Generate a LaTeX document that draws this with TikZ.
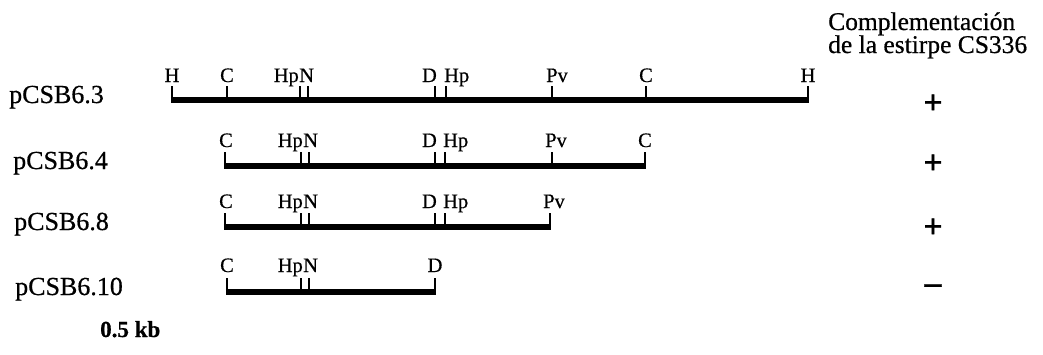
\documentclass[tikz,border=0pt]{standalone}
\usepackage{fontspec}
\setmainfont{Liberation Serif}[FakeBold=0.6]
\begin{document}
\begin{tikzpicture}[x=1pt,y=-1pt,
  clone/.style={font=\fontsize{26}{28}\selectfont, anchor=base west, inner sep=0pt},
  site/.style={font=\fontsize{20.5}{22}\selectfont, inner sep=0pt, anchor=base},
  head/.style={font=\fontsize{25.5}{28}\selectfont, anchor=base west, inner sep=0pt},
  bar/.style={line width=5.5pt, shorten <=-1.2pt, shorten >=-1.2pt},
  tickmark/.style={line width=2.4pt},
  sign/.style={font=\fontsize{34}{36}\selectfont\bfseries, inner sep=0pt}]
\useasboundingbox (0,0) rectangle (1043,354);

% header
\node[head] (h1) at (828,30) {Complementación};
\node[head] (h2) at (828,53) {de la estirpe CS336};

% clone names
\node[clone] (n1) at (9,103) {pCSB6.3};
\node[clone] (n2) at (13,169) {pCSB6.4};
\node[clone] (n3) at (14,230) {pCSB6.8};
\node[clone] (n4) at (15,295) {pCSB6.10};

% row 1
\foreach \n/\x in {a/172,b/227,c/300,d/308,e/435,f/446,g/552,h/646,i/808} {
  \coordinate (r1\n) at (\x,100); \coordinate (r1\n t) at (\x,86);
  \draw[tickmark] (r1\n) -- (r1\n t);}
\draw[bar] (r1a) -- (r1i);
\node[site] (l1a) at (172,82) {H};
\node[site] (l1b) at (227,82) {C};
\node[site,anchor=base east] (l1c) at (299,82) {Hp};
\node[site,anchor=base west] (l1d) at (299,82) {N};
\node[site,anchor=base east] (l1e) at (437,82) {D};
\node[site,anchor=base west] (l1f) at (444,82) {Hp};
\node[site] (l1g) at (557,82) {Pv};
\node[site] (l1h) at (646,82) {C};
\node[site] (l1i) at (808,82) {H};

% row 2
\foreach \n/\x in {b/225,c/301,d/309,e/435,f/445,g/552,h/645} {
  \coordinate (r2\n) at (\x,166); \coordinate (r2\n t) at (\x,152);
  \draw[tickmark] (r2\n) -- (r2\n t);}
\draw[bar] (r2b) -- (r2h);
\node[site] (l2b) at (226,147) {C};
\node[site,anchor=base east] (l2c) at (303,147) {Hp};
\node[site,anchor=base west] (l2d) at (303,147) {N};
\node[site,anchor=base east] (l2e) at (437,147) {D};
\node[site,anchor=base west] (l2f) at (443,147) {Hp};
\node[site] (l2g) at (556,147) {Pv};
\node[site] (l2h) at (645,147) {C};

% row 3
\foreach \n/\x in {b/225,c/301,d/309,e/435,f/445,g/550} {
  \coordinate (r3\n) at (\x,227); \coordinate (r3\n t) at (\x,213);
  \draw[tickmark] (r3\n) -- (r3\n t);}
\draw[bar] (r3b) -- (r3g);
\node[site] (l3b) at (226,208) {C};
\node[site,anchor=base east] (l3c) at (303,208) {Hp};
\node[site,anchor=base west] (l3d) at (303,208) {N};
\node[site,anchor=base east] (l3e) at (437,208) {D};
\node[site,anchor=base west] (l3f) at (443,208) {Hp};
\node[site] (l3g) at (554,208) {Pv};

% row 4
\foreach \n/\x in {b/227,c/301,d/309,e/435} {
  \coordinate (r4\n) at (\x,292); \coordinate (r4\n t) at (\x,278);
  \draw[tickmark] (r4\n) -- (r4\n t);}
\draw[bar] (r4b) -- (r4e);
\node[site] (l4b) at (227,272) {C};
\node[site,anchor=base east] (l4c) at (303,272) {Hp};
\node[site,anchor=base west] (l4d) at (303,272) {N};
\node[site] (l4e) at (435,272) {D};

% complementation signs
\node[sign] (s1) at (933,104) {+};
\node[sign] (s2) at (933,164) {+};
\node[sign] (s3) at (933,228) {+};
\node[sign] (s4) at (933,289) {–};

% scale
\node[font=\fontsize{23}{26}\selectfont\bfseries, anchor=base west, inner sep=0pt] (kb) at (100,337) {0.5 kb};
\end{tikzpicture}
\end{document}
